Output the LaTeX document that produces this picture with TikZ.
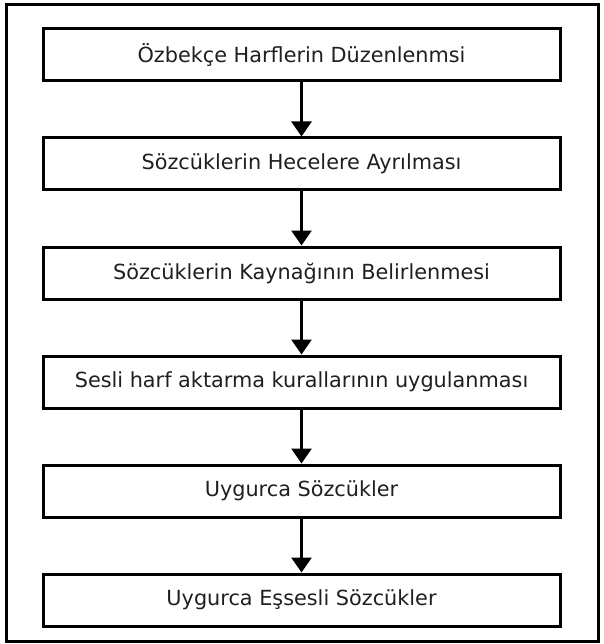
\documentclass[tikz,border=0pt]{standalone}
\usepackage{fontspec}
\setmainfont{DejaVu Sans}
\usetikzlibrary{arrows.meta}

\begin{document}
\begin{tikzpicture}[x=1pt,y=1pt]
\tikzstyle{every node}+=[inner sep=0pt]
\tikzstyle{stepbox}=[draw=black,line width=3pt,minimum width=517pt,minimum height=52pt,text=black!88,font=\fontsize{20.8}{24}\selectfont]
\tikzstyle{flow}=[line width=2.8pt,-{Triangle[width=20pt,length=15pt]}]
\useasboundingbox (0,0) rectangle (603,-644);
\draw [black,line width=3pt] (6,-5) rectangle (598,-641);
\node [stepbox] (harf) at (301.5,-55) {Özbekçe Harflerin Düzenlenmsi};
\node [stepbox] (hece) at (301.5,-164) {Sözcüklerin Hecelere Ayrılması};
\node [stepbox] (kaynak) at (301.5,-273) {Sözcüklerin Kaynağının Belirlenmesi};
\node [stepbox] (kural) at (301.5,-382) {Sesli harf aktarma kurallarının uygulanması};
\node [stepbox] (uygur) at (301.5,-491) {Uygurca Sözcükler};
\node [stepbox] (essesli) at (301.5,-600) {Uygurca Eşsesli Sözcükler};
\draw [flow] (harf) -- (hece);
\draw [flow] (hece) -- (kaynak);
\draw [flow] (kaynak) -- (kural);
\draw [flow] (kural) -- (uygur);
\draw [flow] (uygur) -- (essesli);
\end{tikzpicture}
\end{document}
